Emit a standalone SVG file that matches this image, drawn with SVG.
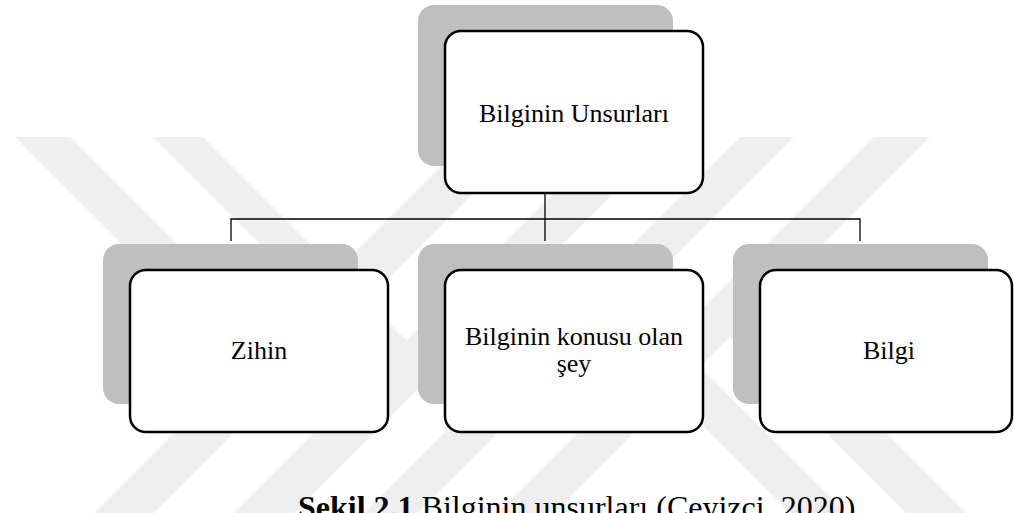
<svg xmlns="http://www.w3.org/2000/svg" width="1014" height="513" viewBox="0 0 1014 513">
  <style>
    .wm { fill: #efefef; }
    .shadow { fill: #bfbfbf; }
    .box { fill: #ffffff; stroke: #000000; stroke-width: 2.5; }
    .lbl { font-family: "Liberation Serif", "Times New Roman", serif; font-size: 26px; fill: #000000; text-anchor: middle; }
    .conn { stroke: #000000; stroke-width: 1.3; fill: none; }
    .cap { font-family: "Liberation Serif", "Times New Roman", serif; font-size: 32px; fill: #000000; }
  </style>
  <rect x="0" y="0" width="1014" height="513" fill="#ffffff"/>
  <g id="watermark">
    <polygon class="wm" points="470,137 530,137 130,537 70,537"/>
    <polygon class="wm" points="610,137 670,137 270,537 210,537"/>
    <polygon class="wm" points="740,137 794,137 394,537 340,537"/>
    <polygon class="wm" points="874,137 930,137 530,537 474,537"/>
    <polygon class="wm" points="15,137 70,137 300,367 272,395"/>
    <polygon class="wm" points="153,137 203,137 436,370 411,395"/>
    <polygon class="wm" points="605,272 870,537 814,537 577,300"/>
    <polygon class="wm" points="732,279 990,537 930,537 702,309"/>
  </g>
  <g id="connectors">
    <path class="conn" d="M545,193 V219 M231,241 V219 H860 V241 M545,219 V241"/>
  </g>
  <g id="node-root">
    <rect class="shadow" x="418" y="5" width="255" height="161" rx="16"/>
    <rect class="box" x="445" y="31" width="258" height="162" rx="16"/>
    <text class="lbl" x="574" y="122">Bilginin Unsurları</text>
  </g>
  <g id="node-zihin">
    <rect class="shadow" x="103" y="244" width="255" height="160" rx="16"/>
    <rect class="box" x="130" y="270" width="258" height="162" rx="16"/>
    <text class="lbl" x="259" y="359">Zihin</text>
  </g>
  <g id="node-konu">
    <rect class="shadow" x="418" y="244" width="255" height="160" rx="16"/>
    <rect class="box" x="445" y="270" width="258" height="162" rx="16"/>
    <text class="lbl" x="574" y="345">Bilginin konusu olan</text>
    <text class="lbl" x="574" y="372">şey</text>
  </g>
  <g id="node-bilgi">
    <rect class="shadow" x="733" y="244" width="255" height="160" rx="16"/>
    <rect class="box" x="760" y="270" width="252" height="162" rx="16"/>
    <text class="lbl" x="889" y="359">Bilgi</text>
  </g>
  <text class="cap" x="298" y="518"><tspan font-weight="bold">Şekil 2.1</tspan> Bilginin unsurları (Ceyizci, 2020)</text>
</svg>
